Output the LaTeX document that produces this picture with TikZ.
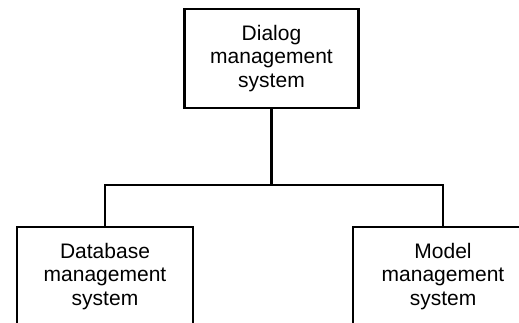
\documentclass[tikz,border=0pt]{standalone}
\usepackage{fontspec}
\setmainfont{Liberation Sans}
\begin{document}
\begin{tikzpicture}[x=1pt,y=-1pt,
  box/.style={draw, line width=2.7pt, minimum height=99pt, align=center,
    inner sep=0pt, font=\fontsize{21}{23.4}\selectfont},
  link/.style={line width=2.7pt}]
\useasboundingbox (0,0) rectangle (519,323);
\clip (0,0) rectangle (519,323);
% subsystem boxes
\node[box, minimum width=174pt] (dms) at (271.5,58.5) {Dialog\\management\\system};
\node[box, minimum width=176pt] (dbms) at (105,276.5) {Database\\management\\system};
\node[box, minimum width=180pt] (mms) at (443,276.5) {Model\\management\\system};
% tree connector
\coordinate (j) at (dms.south |- 0,185);
\draw[link] (dms.south) -- (j);
\draw[link] (dbms.north) |- (j) -| (mms.north);
\end{tikzpicture}
\end{document}
